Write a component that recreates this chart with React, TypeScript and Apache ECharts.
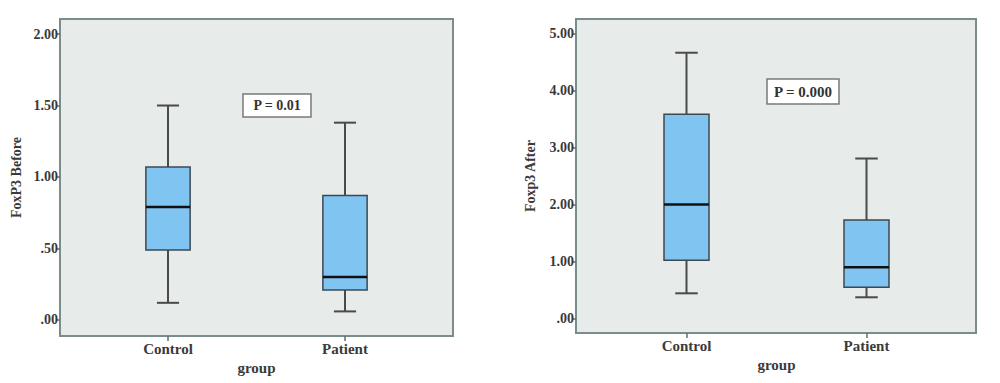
import React, { useEffect, useRef } from "react";
import * as echarts from "echarts";

const groups = ["Control", "Patient"];
// each box: [lower whisker, Q1, median, Q3, upper whisker]
const foxp3Before = [
  [0.12, 0.49, 0.79, 1.07, 1.5],
  [0.06, 0.21, 0.3, 0.87, 1.38],
];
const foxp3After = [
  [0.44, 1.02, 2.0, 3.59, 4.67],
  [0.37, 0.545, 0.9, 1.73, 2.81],
];
const beforeTicks = [0, 0.5, 1, 1.5, 2];
const afterTicks = [0, 1, 2, 3, 4, 5];
const beforeAxisName = "FoxP3 Before";
const afterAxisName = "Foxp3 After";
const xAxisName = "group";
const beforeP = "P = 0.01";
const afterP = "P = 0.000";

const FONT = "'Liberation Serif', 'DejaVu Serif', serif";
const TEXT = "#3a3a3a";
const FRAME = "#7a8c8c";
const TICK = "#5f6f6f";
const BG = "#e7ebea";
const BOX = "#80c4f2";
const BOX_EDGE = "#3c4852";
const WHISKER = "#4a4a4a";

const fmt = (v: number) => v.toFixed(2).replace(/^0/, "");

const renderBox = (_params: any, api: any) => {
  const cat = api.value(0);
  const v = [1, 2, 3, 4, 5].map((i) => api.value(i));
  const band = api.size([1, 0])[0];
  const half = band * 0.125;
  const cap = band * 0.0625;
  const p = v.map((val) => api.coord([cat, val]));
  const x = p[0][0];
  const ls = { stroke: WHISKER, lineWidth: 2 };
  return {
    type: "group",
    children: [
      { type: "line", shape: { x1: x, y1: p[4][1], x2: x, y2: p[3][1] }, style: ls },
      { type: "line", shape: { x1: x, y1: p[1][1], x2: x, y2: p[0][1] }, style: ls },
      { type: "line", shape: { x1: x - cap, y1: p[4][1], x2: x + cap, y2: p[4][1] }, style: ls },
      { type: "line", shape: { x1: x - cap, y1: p[0][1], x2: x + cap, y2: p[0][1] }, style: ls },
      {
        type: "rect",
        shape: { x: x - half, y: p[3][1], width: half * 2, height: p[1][1] - p[3][1] },
        style: { fill: BOX, stroke: BOX_EDGE, lineWidth: 1.5 },
      },
      {
        type: "line",
        shape: { x1: x - half, y1: p[2][1], x2: x + half, y2: p[2][1] },
        style: { stroke: "#111", lineWidth: 2.5 },
      },
    ],
  };
};

// layout of the two panels: frame box and inner grid (category centres)
const panels = [
  { fl: 60, fr: 453, ft: 19, fb: 336, gl: 79.5, gr: 433.5, min: -0.112, max: 2.105 },
  { fl: 576, fr: 976, ft: 19, fb: 333, gl: 596.5, gr: 956.5, min: -0.258, max: 5.263 },
];

export default function App() {
  const ref = useRef<HTMLDivElement>(null);
  useEffect(() => {
    if (!ref.current) return;
    const chart = echarts.init(ref.current, undefined, { renderer: "svg" });
    const W = 1000;
    const H = 383;
    const tickSets = [beforeTicks, afterTicks];
    const names = [beforeAxisName, afterAxisName];
    const nameGaps = [37, 39];
    const datas = [foxp3Before, foxp3After];

    const option: any = {
      animation: false,
      backgroundColor: "#ffffff",
      grid: panels.map((pp) => ({
        left: pp.gl,
        right: W - pp.gr,
        top: pp.ft,
        bottom: H - pp.fb,
        containLabel: false,
      })),
      xAxis: panels.map((_pp, i) => ({
        type: "category",
        gridIndex: i,
        position: "bottom",
        z: 6,
        data: groups,
        boundaryGap: true,
        name: xAxisName,
        nameLocation: "middle",
        nameGap: 23,
        nameTextStyle: { fontFamily: FONT, fontWeight: "bold", fontSize: 15, color: TEXT },
        axisLine: { show: true, onZero: false, lineStyle: { color: FRAME, width: 2 } },
        axisTick: {
          show: true,
          alignWithLabel: true,
          inside: false,
          length: 5,
          lineStyle: { color: TICK, width: 1.5 },
        },
        axisLabel: { fontFamily: FONT, fontWeight: "bold", fontSize: 15, color: TEXT, margin: 5 },
        splitLine: { show: false },
      })),
      yAxis: panels.map((pp, i) => ({
        type: "value",
        gridIndex: i,
        z: 6,
        min: pp.min,
        max: pp.max,
        offset: pp.gl - pp.fl,
        name: names[i],
        nameLocation: "middle",
        nameGap: nameGaps[i],
        nameTextStyle: { fontFamily: FONT, fontWeight: "bold", fontSize: 14, color: TEXT },
        axisLine: { show: false },
        axisTick: {
          show: true,
          length: 4,
          customValues: tickSets[i],
          lineStyle: { color: TICK, width: 1.5 },
        },
        axisLabel: {
          customValues: tickSets[i],
          formatter: (v: number) => fmt(v),
          fontFamily: FONT,
          fontWeight: "bold",
          fontSize: 14,
          color: TEXT,
          margin: 2,
        },
        splitLine: { show: false },
      })),
      graphic: [
        ...panels.map((pp) => ({
          type: "rect",
          z: 0,
          shape: { x: pp.fl, y: pp.ft, width: pp.fr - pp.fl, height: pp.fb - pp.ft },
          style: { fill: BG, stroke: FRAME, lineWidth: 2 },
        })),
        {
          type: "group",
          z: 10,
          children: [
            {
              type: "rect",
              shape: { x: 243, y: 94, width: 68, height: 23 },
              style: { fill: "#ffffff", stroke: "#7a7a7a", lineWidth: 1.5 },
            },
            {
              type: "text",
              x: 277,
              y: 105.5,
              style: {
                text: beforeP,
                fontFamily: FONT,
                fontWeight: "bold",
                fontSize: 14,
                fill: "#333",
                align: "center",
                verticalAlign: "middle",
              },
            },
            {
              type: "rect",
              shape: { x: 767, y: 79, width: 72, height: 25 },
              style: { fill: "#ffffff", stroke: "#7a7a7a", lineWidth: 1.5 },
            },
            {
              type: "text",
              x: 803,
              y: 91.5,
              style: {
                text: afterP,
                fontFamily: FONT,
                fontWeight: "bold",
                fontSize: 15,
                fill: "#333",
                align: "center",
                verticalAlign: "middle",
              },
            },
          ],
        },
      ],
      series: datas.map((d, i) => ({
        type: "custom",
        xAxisIndex: i,
        yAxisIndex: i,
        z: 5,
        renderItem: renderBox,
        encode: { x: 0, y: [1, 2, 3, 4, 5] },
        data: d.map((row, k) => [k, ...row]),
      })),
    };
    chart.setOption(option);
    return () => chart.dispose();
  }, []);
  return (
    <div
      ref={ref}
      style={{ position: "absolute", left: 0, top: 0, width: 1000, height: 383 }}
    />
  );
}
